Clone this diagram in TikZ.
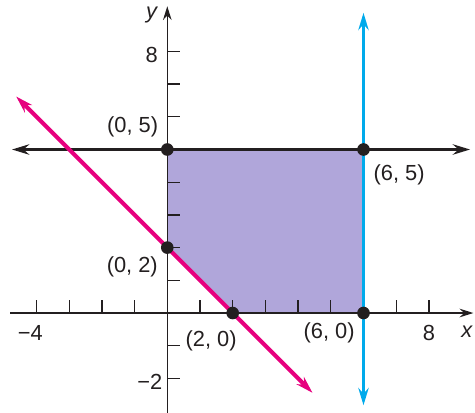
\documentclass[tikz,border=0pt]{standalone}
\usepackage{fontspec}
\setmainfont{Liberation Sans}
\usetikzlibrary{arrows.meta}
\definecolor{pinkline}{RGB}{230,0,126}
\definecolor{blueline}{RGB}{0,170,235}
\definecolor{regionfill}{RGB}{176,166,218}
\definecolor{inkblack}{RGB}{35,31,32}
\begin{document}
\begin{tikzpicture}[x=1cm,y=1cm,
  axisline/.style={draw=inkblack,line width=1.1pt},
  ticksty/.style={draw=inkblack,line width=1.1pt},
  lbl/.style={font=\fontsize{19}{22}\selectfont,text=inkblack,inner sep=0pt},
  vtx/.style={circle,fill=inkblack,inner sep=0pt,minimum size=11pt},
  axtip/.style={-{Stealth[length=12pt,width=7.5pt,inset=4pt]}},
  lntip/.style={{Stealth[length=15pt,width=9pt,inset=5pt]}-{Stealth[length=15pt,width=9pt,inset=5pt]}}
]
\useasboundingbox (-5.116,-3.028) rectangle (9.41,9.572);
% region
\fill[regionfill] (0,2) -- (0,5) -- (6,5) -- (6,0) -- (2,0) -- cycle;
% axes
\coordinate (xl) at (-4.81,0);
\coordinate (xr) at (9.36,0);
\coordinate (yb) at (0,-3.1);
\coordinate (yt) at (0,9.38);
\draw[axisline,axtip] (xl) -- (xr);
\draw[axisline,axtip] (yb) -- (yt);
% ticks
\foreach \t in {-4,-3,-2,-1,1,2,3,4,5,6,7,8}
  \draw[ticksty] (\t,0) -- (\t,0.4);
\foreach \t in {-2,-1,1,2,3,4,6,7,8}
  \draw[ticksty] (0,\t) -- (0.4,\t);
% lines
\coordinate (hl) at (-4.75,5);
\coordinate (hr) at (9.26,5);
\draw[draw=inkblack,line width=2.6pt,lntip] (hl) -- (hr);
\coordinate (vb) at (6,-2.82);
\coordinate (vt) at (6,9.18);
\draw[draw=blueline,line width=3.4pt,lntip] (vb) -- (vt);
\coordinate (pa) at (-4.62,6.62);
\coordinate (pb) at (4.44,-2.44);
\draw[draw=pinkline,line width=3.6pt,lntip] (pa) -- (pb);
% vertices
\node[vtx] (v05) at (0,5) {};
\node[vtx] (v65) at (6,5) {};
\node[vtx] (v02) at (0,2) {};
\node[vtx] (v20) at (2,0) {};
\node[vtx] (v60) at (6,0) {};
% labels
\node[lbl] (lx) at (9.16,-0.57) {\itshape x};
\node[lbl] (ly) at (-0.48,9.11) {\itshape y};
\node[lbl,anchor=east] (lm4) at (-3.8,-0.6) {−4};
\node[lbl] (l8x) at (8.0,-0.6) {8};
\node[lbl,anchor=east] (lm2) at (-0.15,-2.12) {−2};
\node[lbl] (l8y) at (-0.48,7.89) {8};
\node[lbl] (t05) at (-1.06,5.70) {(0, 5)};
\node[lbl] (t02) at (-1.07,1.42) {(0, 2)};
\node[lbl] (t65) at (7.09,4.22) {(6, 5)};
\node[lbl] (t60) at (4.95,-0.6) {(6, 0)};
\node[lbl] (t20) at (1.34,-0.85) {(2, 0)};
\end{tikzpicture}
\end{document}
